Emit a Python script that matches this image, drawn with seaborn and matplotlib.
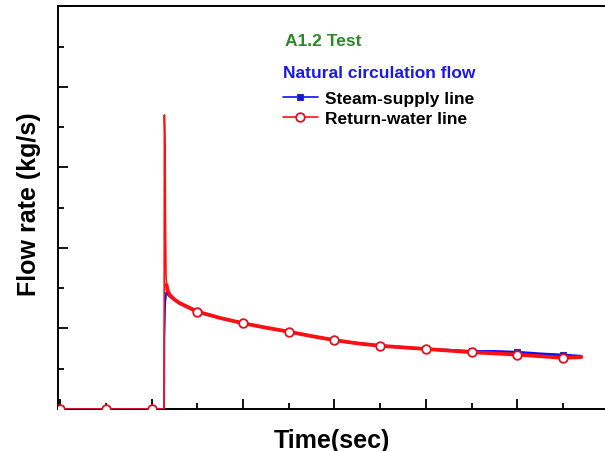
import matplotlib
matplotlib.use("Agg")
import matplotlib.pyplot as plt
import seaborn as sns
import pandas as pd
from matplotlib.ticker import MultipleLocator, NullFormatter
from matplotlib.lines import Line2D

# ---- data ----
time_steam = [0, 500, 1000, 1137, 1140, 1148, 1160, 1175, 1200, 1250, 1300, 1400,
              1500, 1750, 2000, 2250, 2500, 2750, 3000, 3250, 3500, 3750, 4000,
              4250, 4500, 4750, 5000, 5250, 5500, 5700]
flow_steam = [0, 0, 0, 0, 1.74, 2.6, 2.9, 2.86, 2.8, 2.71, 2.63, 2.52,
              2.41, 2.26, 2.13, 2.02, 1.92, 1.81, 1.71, 1.63, 1.57, 1.53, 1.49,
              1.46, 1.43, 1.43, 1.41, 1.37, 1.34, 1.31]

time_return = [0, 500, 1000, 1137, 1140, 1144, 1148, 1152, 1158, 1165, 1175, 1200,
               1250, 1300, 1400, 1500, 1750, 2000, 2250, 2500, 2750, 3000, 3250,
               3500, 3750, 4000, 4250, 4500, 4750, 5000, 5250, 5500, 5700]
flow_return = [0, 0, 0, 0, 7.3, 6.9, 6.4, 4.6, 3.3, 3.08, 2.95, 2.83,
               2.72, 2.64, 2.53, 2.42, 2.26, 2.13, 2.02, 1.92, 1.81, 1.71, 1.63,
               1.57, 1.53, 1.49, 1.45, 1.41, 1.38, 1.35, 1.31, 1.27, 1.29]

marker_step = 500
spike_end = 1165          # time after which the trace is drawn as a thick noisy band
title_text = "A1.2 Test"
legend_title = "Natural circulation flow"
label_steam = "Steam-supply line"
label_return = "Return-water line"
x_label = "Time(sec)"
y_label = "Flow rate (kg/s)"

BLUE, RED = "#1010ee", "#ff1010"

sns.set_style("white")
plt.rcParams["font.family"] = ["Liberation Sans", "DejaVu Sans"]
plt.rcParams["text.color"] = "black"
plt.rcParams["axes.labelcolor"] = "black"

W, H = 605, 452
fig = plt.figure(figsize=(W / 100, H / 100), dpi=100)
left_px, right_px, top_px, bottom_px = 58.3, 608.8, 7.3, 410.0
ax = fig.add_axes([left_px / W, 1 - bottom_px / H,
                   (right_px - left_px) / W, (bottom_px - top_px) / H])

df_s = pd.DataFrame({"t": time_steam, "q": flow_steam})
df_r = pd.DataFrame({"t": time_return, "q": flow_return})


def draw(df, color, lw_thin, lw_thick, mstyle):
    early = df[df.t <= spike_end].reset_index(drop=True)
    late = df[df.t >= spike_end].reset_index(drop=True)
    for part, lw in ((early, lw_thin), (late, lw_thick)):
        mk = [i for i, t in enumerate(part.t) if t % marker_step == 0]
        sns.lineplot(data=part, x="t", y="q", ax=ax, sort=False, estimator=None,
                     color=color, linewidth=lw, markevery=mk, zorder=3,
                     clip_on=True, **mstyle)


steam_style = dict(marker="s", markersize=4.5, markerfacecolor=BLUE,
                   markeredgecolor="#3030a0", markeredgewidth=0.8)
return_style = dict(marker="o", markersize=6.2, markerfacecolor="white",
                    markeredgecolor="#e01020", markeredgewidth=1.3)

draw(df_s, BLUE, 1.3, 2.0, steam_style)
draw(df_r, RED, 1.2, 2.7, return_style)

ax.set_xlim(-20, 6000)
ax.set_ylim(0, 10)
ax.xaxis.set_major_locator(MultipleLocator(1000))
ax.xaxis.set_minor_locator(MultipleLocator(500))
ax.yaxis.set_major_locator(MultipleLocator(2))
ax.yaxis.set_minor_locator(MultipleLocator(1))
ax.xaxis.set_major_formatter(NullFormatter())
ax.yaxis.set_major_formatter(NullFormatter())
ax.tick_params(which="both", direction="in", bottom=True, left=True,
               top=False, right=False, width=1.3, color="black")
ax.tick_params(which="major", length=7)
ax.tick_params(which="minor", length=4.5)
for s in ax.spines.values():
    s.set_linewidth(1.4)
    s.set_color("black")
    s.set_zorder(2.5)

ax.set_xlabel(x_label, fontsize=18, fontweight="bold", color="black")
ax.set_ylabel(y_label, fontsize=18, fontweight="bold", color="black")
ax.xaxis.set_label_coords(0.4975, -0.047)
ax.yaxis.set_label_coords(-0.031, 0.511)

fig.text(285 / W, 1 - 41 / H, title_text, color="#2a8a2a", fontsize=12.5,
         fontweight="bold", ha="left", va="center")
fig.text(283 / W, 1 - 73.5 / H, legend_title, color="#1a1ae6", fontsize=12.5,
         fontweight="bold", ha="left", va="center")

handles = [Line2D([], [], color=BLUE, linewidth=1.2, **steam_style),
           Line2D([], [], color=RED, linewidth=1.2, **return_style)]
leg = ax.legend(handles, [label_steam, label_return], loc="upper left",
                bbox_to_anchor=(283 / W, 1 - 92 / H), bbox_transform=fig.transFigure,
                frameon=False, borderpad=0, borderaxespad=0, handlelength=2.0,
                handletextpad=0.4, labelspacing=0.25,
                prop={"size": 12.5, "weight": "bold"})
for t in leg.get_texts():
    t.set_color("black")

fig.savefig("out.png", dpi=100)
